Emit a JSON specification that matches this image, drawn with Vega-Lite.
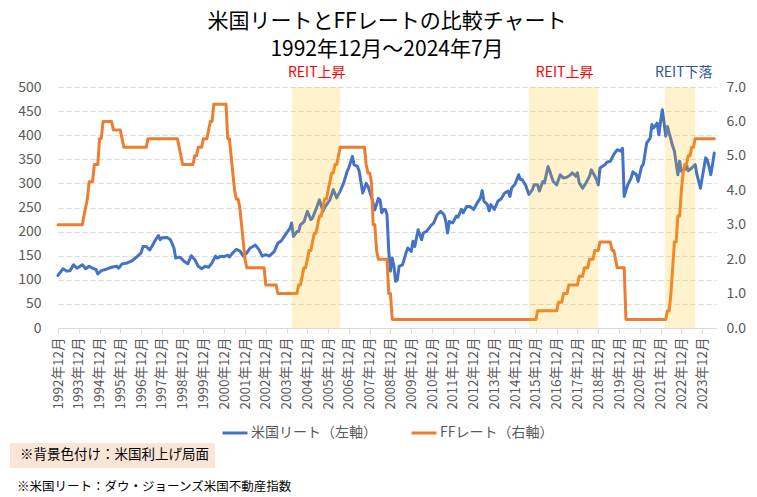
{
  "$schema": "https://vega.github.io/schema/vega-lite/v6.json",
  "background": "white",
  "padding": {"left": 10, "top": 11, "right": 5, "bottom": 0},
  "title": {
    "text": "※米国リート：ダウ・ジョーンズ米国不動産指数",
    "orient": "bottom", "anchor": "start", "frame": "bounds",
    "fontSize": 12.5, "fontWeight": "normal", "color": "#000000", "offset": 13, "dx": 7
  },
  "resolve": {"legend": {"color": "independent", "fill": "independent"}},
  "config": {
    "font": "Noto Sans CJK JP",
    "view": {"stroke": null},
    "legend": {"layout": {"bottom": {"anchor": "middle"}}}
  },
  "datasets": {
    "reit": [
      {"d":"1992-12-01","v":109},{"d":"1993-03-01","v":123},{"d":"1993-05-01","v":118},{"d":"1993-07-01","v":119},{"d":"1993-09-01","v":131},{"d":"1993-11-01","v":124},
      {"d":"1994-02-01","v":131},{"d":"1994-04-01","v":123},{"d":"1994-06-01","v":128},{"d":"1994-08-01","v":124},{"d":"1994-10-01","v":121},{"d":"1994-11-01","v":112},
      {"d":"1995-01-01","v":119},{"d":"1995-04-01","v":122},{"d":"1995-07-01","v":126},{"d":"1995-10-01","v":128},{"d":"1995-11-01","v":124},
      {"d":"1996-01-01","v":133},{"d":"1996-04-01","v":135},{"d":"1996-07-01","v":140},{"d":"1996-10-01","v":149},{"d":"1996-12-01","v":156},
      {"d":"1997-01-01","v":169},{"d":"1997-03-01","v":169},{"d":"1997-05-01","v":162},{"d":"1997-07-01","v":174},{"d":"1997-08-01","v":181},{"d":"1997-10-01","v":192},{"d":"1997-11-01","v":183},{"d":"1997-12-01","v":187},
      {"d":"1998-03-01","v":188},{"d":"1998-05-01","v":183},{"d":"1998-07-01","v":166},{"d":"1998-08-01","v":145},{"d":"1998-10-01","v":147},{"d":"1998-11-01","v":145},
      {"d":"1999-01-01","v":138},{"d":"1999-03-01","v":133},{"d":"1999-05-01","v":150},{"d":"1999-07-01","v":142},{"d":"1999-09-01","v":128},{"d":"1999-11-01","v":123},
      {"d":"2000-01-01","v":128},{"d":"2000-03-01","v":126},{"d":"2000-05-01","v":135},{"d":"2000-07-01","v":149},{"d":"2000-08-01","v":145},{"d":"2000-10-01","v":149},{"d":"2000-12-01","v":148},
      {"d":"2001-02-01","v":151},{"d":"2001-03-01","v":147},{"d":"2001-05-01","v":156},{"d":"2001-07-01","v":163},{"d":"2001-09-01","v":160},{"d":"2001-11-01","v":149},
      {"d":"2002-01-01","v":156},{"d":"2002-03-01","v":166},{"d":"2002-06-01","v":172},{"d":"2002-08-01","v":163},{"d":"2002-10-01","v":149},{"d":"2002-12-01","v":152},
      {"d":"2003-02-01","v":149},{"d":"2003-05-01","v":159},{"d":"2003-07-01","v":176},{"d":"2003-09-01","v":181},{"d":"2003-12-01","v":197},
      {"d":"2004-02-01","v":207},{"d":"2004-03-01","v":218},{"d":"2004-04-01","v":190},{"d":"2004-06-01","v":200},{"d":"2004-07-01","v":200},{"d":"2004-08-01","v":214},{"d":"2004-10-01","v":220},{"d":"2004-12-01","v":242},
      {"d":"2005-02-01","v":225},{"d":"2005-03-01","v":228},{"d":"2005-05-01","v":246},{"d":"2005-07-01","v":266},{"d":"2005-09-01","v":242},{"d":"2005-10-01","v":250},
      {"d":"2006-01-01","v":266},{"d":"2006-03-01","v":287},{"d":"2006-05-01","v":270},{"d":"2006-07-01","v":284},{"d":"2006-09-01","v":301},{"d":"2006-11-01","v":325},{"d":"2006-12-01","v":333},
      {"d":"2007-02-01","v":356},{"d":"2007-03-01","v":339},{"d":"2007-05-01","v":335},{"d":"2007-06-01","v":325},{"d":"2007-08-01","v":280},{"d":"2007-10-01","v":300},{"d":"2007-11-01","v":294},
      {"d":"2008-01-01","v":272},{"d":"2008-03-01","v":245},{"d":"2008-05-01","v":269},{"d":"2008-06-01","v":266},{"d":"2008-07-01","v":239},{"d":"2008-08-01","v":246},{"d":"2008-09-01","v":246},{"d":"2008-10-01","v":235},{"d":"2008-11-01","v":159},{"d":"2008-12-01","v":118},
      {"d":"2009-01-01","v":145},{"d":"2009-02-01","v":128},{"d":"2009-03-01","v":97},{"d":"2009-04-01","v":100},{"d":"2009-05-01","v":128},{"d":"2009-07-01","v":131},{"d":"2009-09-01","v":156},{"d":"2009-10-01","v":166},{"d":"2009-12-01","v":159},
      {"d":"2010-01-01","v":180},{"d":"2010-02-01","v":169},{"d":"2010-04-01","v":204},{"d":"2010-06-01","v":183},{"d":"2010-07-01","v":197},{"d":"2010-09-01","v":201},{"d":"2010-11-01","v":211},
      {"d":"2011-01-01","v":218},{"d":"2011-03-01","v":235},{"d":"2011-05-01","v":242},{"d":"2011-07-01","v":235},{"d":"2011-08-01","v":221},{"d":"2011-09-01","v":197},{"d":"2011-10-01","v":221},{"d":"2011-12-01","v":218},
      {"d":"2012-02-01","v":232},{"d":"2012-03-01","v":230},{"d":"2012-05-01","v":246},{"d":"2012-06-01","v":239},{"d":"2012-08-01","v":252},{"d":"2012-10-01","v":252},{"d":"2012-12-01","v":246},
      {"d":"2013-02-01","v":259},{"d":"2013-04-01","v":270},{"d":"2013-05-01","v":285},{"d":"2013-06-01","v":263},{"d":"2013-08-01","v":256},{"d":"2013-09-01","v":243},{"d":"2013-10-01","v":256},{"d":"2013-12-01","v":246},
      {"d":"2014-02-01","v":263},{"d":"2014-04-01","v":268},{"d":"2014-06-01","v":280},{"d":"2014-08-01","v":284},{"d":"2014-09-01","v":273},{"d":"2014-10-01","v":290},{"d":"2014-12-01","v":299},
      {"d":"2015-02-01","v":318},{"d":"2015-03-01","v":308},{"d":"2015-04-01","v":308},{"d":"2015-06-01","v":297},{"d":"2015-07-01","v":287},{"d":"2015-08-01","v":277},{"d":"2015-10-01","v":287},{"d":"2015-11-01","v":297},
      {"d":"2016-01-01","v":297},{"d":"2016-02-01","v":284},{"d":"2016-04-01","v":304},{"d":"2016-05-01","v":301},{"d":"2016-07-01","v":335},{"d":"2016-08-01","v":325},{"d":"2016-10-01","v":304},{"d":"2016-12-01","v":297},
      {"d":"2017-02-01","v":318},{"d":"2017-04-01","v":311},{"d":"2017-06-01","v":313},{"d":"2017-08-01","v":318},{"d":"2017-09-01","v":322},{"d":"2017-11-01","v":315},{"d":"2017-12-01","v":322},
      {"d":"2018-01-01","v":301},{"d":"2018-03-01","v":290},{"d":"2018-05-01","v":301},{"d":"2018-07-01","v":315},{"d":"2018-08-01","v":328},{"d":"2018-09-01","v":322},{"d":"2018-11-01","v":308},{"d":"2018-12-01","v":297},
      {"d":"2019-01-01","v":332},{"d":"2019-04-01","v":339},{"d":"2019-05-01","v":344},{"d":"2019-07-01","v":346},{"d":"2019-09-01","v":360},{"d":"2019-11-01","v":370},
      {"d":"2020-01-01","v":367},{"d":"2020-02-01","v":373},{"d":"2020-03-01","v":273},{"d":"2020-05-01","v":297},{"d":"2020-07-01","v":311},{"d":"2020-08-01","v":324},{"d":"2020-10-01","v":318},{"d":"2020-11-01","v":304},
      {"d":"2021-01-01","v":335},{"d":"2021-02-01","v":340},{"d":"2021-04-01","v":384},{"d":"2021-06-01","v":394},{"d":"2021-07-01","v":422},{"d":"2021-08-01","v":415},{"d":"2021-10-01","v":425},{"d":"2021-11-01","v":401},{"d":"2021-12-01","v":429},
      {"d":"2022-01-01","v":453},{"d":"2022-02-01","v":425},{"d":"2022-03-01","v":398},{"d":"2022-04-01","v":418},{"d":"2022-06-01","v":391},{"d":"2022-07-01","v":377},{"d":"2022-08-01","v":367},{"d":"2022-10-01","v":318},{"d":"2022-11-01","v":346},{"d":"2022-12-01","v":325},
      {"d":"2023-02-01","v":329},{"d":"2023-03-01","v":339},{"d":"2023-04-01","v":326},{"d":"2023-06-01","v":332},{"d":"2023-08-01","v":339},{"d":"2023-09-01","v":318},{"d":"2023-11-01","v":290},
      {"d":"2024-01-01","v":332},{"d":"2024-02-01","v":353},{"d":"2024-03-01","v":349},{"d":"2024-04-01","v":335},{"d":"2024-05-01","v":318},{"d":"2024-06-01","v":339},{"d":"2024-07-01","v":363}
    ],
    "ff": [
      {"d":"1992-12-01","r":3.0},{"d":"1994-02-01","r":3.0},{"d":"1994-03-01","r":3.25},{"d":"1994-04-01","r":3.5},{"d":"1994-05-01","r":3.75},{"d":"1994-06-01","r":4.25},{"d":"1994-08-01","r":4.25},{"d":"1994-09-01","r":4.75},{"d":"1994-11-01","r":4.75},{"d":"1994-12-01","r":5.5},
      {"d":"1995-01-01","r":5.5},{"d":"1995-02-01","r":6.0},{"d":"1995-07-01","r":6.0},{"d":"1995-08-01","r":5.75},{"d":"1995-12-01","r":5.75},{"d":"1996-01-01","r":5.5},{"d":"1996-02-01","r":5.25},
      {"d":"1997-03-01","r":5.25},{"d":"1997-04-01","r":5.5},{"d":"1998-09-01","r":5.5},{"d":"1998-10-01","r":5.25},{"d":"1998-11-01","r":5.0},{"d":"1998-12-01","r":4.75},
      {"d":"1999-06-01","r":4.75},{"d":"1999-07-01","r":5.0},{"d":"1999-08-01","r":5.0},{"d":"1999-09-01","r":5.25},{"d":"1999-11-01","r":5.25},{"d":"1999-12-01","r":5.5},
      {"d":"2000-02-01","r":5.5},{"d":"2000-03-01","r":5.75},{"d":"2000-04-01","r":6.0},{"d":"2000-05-01","r":6.0},{"d":"2000-06-01","r":6.5},
      {"d":"2001-01-01","r":6.5},{"d":"2001-02-01","r":5.5},{"d":"2001-03-01","r":5.5},{"d":"2001-04-01","r":5.0},{"d":"2001-05-01","r":4.5},{"d":"2001-06-01","r":4.0},{"d":"2001-07-01","r":3.75},{"d":"2001-08-01","r":3.75},{"d":"2001-09-01","r":3.5},{"d":"2001-10-01","r":3.0},{"d":"2001-11-01","r":2.5},{"d":"2001-12-01","r":2.0},
      {"d":"2002-01-01","r":1.75},{"d":"2002-11-01","r":1.75},{"d":"2002-12-01","r":1.25},{"d":"2003-06-01","r":1.25},{"d":"2003-07-01","r":1.0},
      {"d":"2004-06-01","r":1.0},{"d":"2004-07-01","r":1.25},{"d":"2004-08-01","r":1.25},{"d":"2004-09-01","r":1.5},{"d":"2004-10-01","r":1.75},{"d":"2004-11-01","r":1.75},{"d":"2004-12-01","r":2.0},
      {"d":"2005-01-01","r":2.25},{"d":"2005-02-01","r":2.25},{"d":"2005-03-01","r":2.5},{"d":"2005-04-01","r":2.75},{"d":"2005-05-01","r":2.75},{"d":"2005-06-01","r":3.0},{"d":"2005-07-01","r":3.25},{"d":"2005-08-01","r":3.25},{"d":"2005-09-01","r":3.5},{"d":"2005-10-01","r":3.75},{"d":"2005-11-01","r":3.75},{"d":"2005-12-01","r":4.0},
      {"d":"2006-01-01","r":4.25},{"d":"2006-02-01","r":4.5},{"d":"2006-03-01","r":4.5},{"d":"2006-04-01","r":4.75},{"d":"2006-05-01","r":4.75},{"d":"2006-06-01","r":5.0},{"d":"2006-07-01","r":5.25},
      {"d":"2007-09-01","r":5.25},{"d":"2007-10-01","r":4.75},{"d":"2007-11-01","r":4.5},{"d":"2007-12-01","r":4.5},
      {"d":"2008-01-01","r":4.25},{"d":"2008-02-01","r":3.0},{"d":"2008-03-01","r":3.0},{"d":"2008-04-01","r":2.25},{"d":"2008-05-01","r":2.0},{"d":"2008-10-01","r":2.0},{"d":"2008-11-01","r":1.0},{"d":"2008-12-01","r":1.0},
      {"d":"2009-01-01","r":0.25},{"d":"2015-12-01","r":0.25},{"d":"2016-01-01","r":0.5},{"d":"2016-12-01","r":0.5},
      {"d":"2017-01-01","r":0.75},{"d":"2017-03-01","r":0.75},{"d":"2017-04-01","r":1.0},{"d":"2017-06-01","r":1.0},{"d":"2017-07-01","r":1.25},{"d":"2017-12-01","r":1.25},
      {"d":"2018-01-01","r":1.5},{"d":"2018-03-01","r":1.5},{"d":"2018-04-01","r":1.75},{"d":"2018-06-01","r":1.75},{"d":"2018-07-01","r":2.0},{"d":"2018-09-01","r":2.0},{"d":"2018-10-01","r":2.25},{"d":"2018-12-01","r":2.25},
      {"d":"2019-01-01","r":2.5},{"d":"2019-07-01","r":2.5},{"d":"2019-08-01","r":2.25},{"d":"2019-09-01","r":2.25},{"d":"2019-10-01","r":2.0},{"d":"2019-11-01","r":1.75},
      {"d":"2020-03-01","r":1.75},{"d":"2020-04-01","r":0.25},{"d":"2022-03-01","r":0.25},{"d":"2022-04-01","r":0.5},{"d":"2022-05-01","r":0.5},{"d":"2022-06-01","r":1.0},{"d":"2022-07-01","r":1.75},{"d":"2022-08-01","r":2.5},{"d":"2022-09-01","r":2.5},{"d":"2022-10-01","r":3.25},{"d":"2022-11-01","r":3.25},{"d":"2022-12-01","r":4.0},
      {"d":"2023-01-01","r":4.5},{"d":"2023-02-01","r":4.75},{"d":"2023-03-01","r":4.75},{"d":"2023-04-01","r":5.0},{"d":"2023-05-01","r":5.0},{"d":"2023-06-01","r":5.25},{"d":"2023-07-01","r":5.25},{"d":"2023-08-01","r":5.5},{"d":"2024-07-01","r":5.5}
    ],
    "bands": [
      {"s":"2004-03-01","e":"2006-07-01","k":"※背景色付け：米国利上げ局面"},
      {"s":"2015-08-01","e":"2018-12-01","k":"※背景色付け：米国利上げ局面"},
      {"s":"2022-02-15","e":"2023-08-01","k":"※背景色付け：米国利上げ局面"}
    ]
  },
  "vconcat": [
    {
      "width": 658,
      "height": 241,
      "title": {
        "text": ["米国リートとFFレートの比較チャート", "1992年12月～2024年7月"],
        "fontSize": 21,
        "fontWeight": "normal",
        "color": "#000000",
        "anchor": "middle",
        "frame": "group",
        "lineHeight": 28,
        "offset": 6
      },
      "resolve": {"scale": {"y": "independent"}},
      "layer": [
        {
          "data": {"name": "reit"},
          "mark": {"type": "line", "strokeWidth": 3, "strokeJoin": "round", "strokeCap": "round"},
          "encoding": {
            "x": {
              "field": "d", "type": "temporal",
              "scale": {"type": "utc", "domain": [{"year": 1992, "month": 12, "date": 1, "utc": true}, {"year": 2024, "month": 8, "date": 1, "utc": true}]},
              "axis": {
                "title": null,
                "tickCount": 60,
                "values": [
                  {"year":1992,"month":12,"date":1,"utc":true},{"year":1993,"month":12,"date":1,"utc":true},{"year":1994,"month":12,"date":1,"utc":true},{"year":1995,"month":12,"date":1,"utc":true},
                  {"year":1996,"month":12,"date":1,"utc":true},{"year":1997,"month":12,"date":1,"utc":true},{"year":1998,"month":12,"date":1,"utc":true},{"year":1999,"month":12,"date":1,"utc":true},
                  {"year":2000,"month":12,"date":1,"utc":true},{"year":2001,"month":12,"date":1,"utc":true},{"year":2002,"month":12,"date":1,"utc":true},{"year":2003,"month":12,"date":1,"utc":true},
                  {"year":2004,"month":12,"date":1,"utc":true},{"year":2005,"month":12,"date":1,"utc":true},{"year":2006,"month":12,"date":1,"utc":true},{"year":2007,"month":12,"date":1,"utc":true},
                  {"year":2008,"month":12,"date":1,"utc":true},{"year":2009,"month":12,"date":1,"utc":true},{"year":2010,"month":12,"date":1,"utc":true},{"year":2011,"month":12,"date":1,"utc":true},
                  {"year":2012,"month":12,"date":1,"utc":true},{"year":2013,"month":12,"date":1,"utc":true},{"year":2014,"month":12,"date":1,"utc":true},{"year":2015,"month":12,"date":1,"utc":true},
                  {"year":2016,"month":12,"date":1,"utc":true},{"year":2017,"month":12,"date":1,"utc":true},{"year":2018,"month":12,"date":1,"utc":true},{"year":2019,"month":12,"date":1,"utc":true},
                  {"year":2020,"month":12,"date":1,"utc":true},{"year":2021,"month":12,"date":1,"utc":true},{"year":2022,"month":12,"date":1,"utc":true},{"year":2023,"month":12,"date":1,"utc":true}
                ],
                "format": "%Y年%m月",
                "labelAngle": -90,
                "labelFontSize": 13.5,
                "labelColor": "#595959",
                "labelPadding": 4,
                "labelOverlap": false,
                "labelFlush": false,
                "labelBound": false,
                "domainColor": "#D9D9D9",
                "tickColor": "#D9D9D9",
                "tickSize": 5,
                "grid": false
              }
            },
            "y": {
              "field": "v", "type": "quantitative",
              "scale": {"domain": [0, 500], "nice": false},
              "axis": {
                "orient": "left", "title": null, "tickCount": 20,
                "values": [0, 50, 100, 150, 200, 250, 300, 350, 400, 450, 500],
                "grid": true, "gridColor": "#D9D9D9", "gridDash": [5, 3], "gridWidth": 1,
                "domain": false, "ticks": false,
                "labelPadding": 17, "labelFontSize": 14, "labelColor": "#595959"
              }
            },
            "color": {
              "datum": "米国リート（左軸）",
              "scale": {"domain": ["米国リート（左軸）", "FFレート（右軸）"], "range": ["#4472C4", "#ED7D31"]},
              "legend": {
                "title": null, "orient": "bottom", "direction": "horizontal",
                "symbolType": "stroke", "symbolStrokeWidth": 3, "symbolSize": 625,
                "labelFontSize": 14, "labelColor": "#595959", "columnPadding": 28, "labelOffset": 2, "offset": 10
              }
            }
          }
        },
        {
          "data": {"name": "ff"},
          "mark": {"type": "line", "strokeWidth": 3, "strokeJoin": "round", "strokeCap": "round"},
          "encoding": {
            "x": {"field": "d", "type": "temporal"},
            "y": {
              "field": "r", "type": "quantitative",
              "scale": {"domain": [0, 7], "nice": false},
              "axis": {
                "orient": "right", "title": null, "tickCount": 20,
                "values": [0, 1, 2, 3, 4, 5, 6, 7], "format": ".1f",
                "grid": false, "domain": false, "ticks": false,
                "labelPadding": 10, "labelFontSize": 14, "labelColor": "#595959"
              }
            },
            "color": {"datum": "FFレート（右軸）"}
          }
        },
        {
          "data": {"name": "bands"},
          "mark": {"type": "rect", "opacity": 0.2},
          "encoding": {
            "x": {"field": "s", "type": "temporal"},
            "x2": {"field": "e"},
            "fill": {
              "field": "k", "type": "nominal",
              "scale": {"range": ["#FFC000"]},
              "legend": {
                "title": null, "orient": "none", "legendX": -48, "legendY": 356,
                "fillColor": "#FBE5D6", "padding": 5.5,
                "symbolOpacity": 0, "symbolSize": 25, "symbolType": "square", "symbolStrokeWidth": 0,
                "labelFontSize": 13.5, "labelColor": "#000000", "labelOffset": -9, "labelLimit": 0
              }
            }
          }
        },
        {
          "data": {"values": [{"t": "REIT上昇", "d": "2005-05-15"}, {"t": "REIT上昇", "d": "2017-04-20"}]},
          "mark": {"type": "text", "color": "#FF0000", "fontSize": 14, "baseline": "middle"},
          "encoding": {
            "x": {"field": "d", "type": "temporal"},
            "y": {"datum": 529, "type": "quantitative", "scale": {"domain": [0, 500], "nice": false}, "axis": null},
            "text": {"field": "t"}
          }
        },
        {
          "data": {"values": [{"t": "REIT下落", "d": "2023-01-12"}]},
          "mark": {"type": "text", "color": "#2F5597", "fontSize": 14, "baseline": "middle"},
          "encoding": {
            "x": {"field": "d", "type": "temporal"},
            "y": {"datum": 529, "type": "quantitative", "scale": {"domain": [0, 500], "nice": false}, "axis": null},
            "text": {"field": "t"}
          }
        }
      ]
    }
  ]
}
